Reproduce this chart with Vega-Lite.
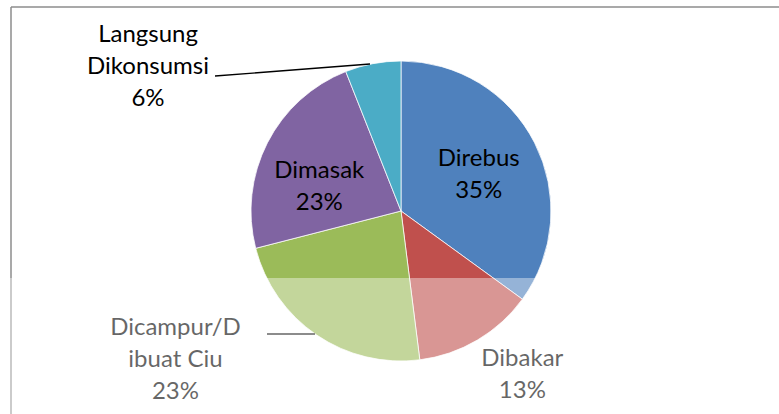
{
  "$schema": "https://vega.github.io/schema/vega-lite/v6.json",
  "width": 768,
  "height": 407,
  "autosize": {"type": "none"},
  "padding": {"left": 11, "top": 7, "right": 0, "bottom": 0},
  "background": "white",
  "config": {"view": {"stroke": null}},
  "layer": [
    {
      "data": {"values": [
        {"edge": "top", "x1": 0, "y1": 0, "x2": 768, "y2": 0},
        {"edge": "left", "x1": 0, "y1": 0, "x2": 0, "y2": 407}
      ]},
      "mark": {"type": "rule", "color": "#8c8c8c", "strokeWidth": 1.5},
      "encoding": {
        "x": {"field": "x1", "type": "quantitative", "axis": null, "scale": {"domain": [0, 768], "nice": false, "zero": false}},
        "x2": {"field": "x2"},
        "y": {"field": "y1", "type": "quantitative", "axis": null, "scale": {"domain": [0, 407], "reverse": true, "nice": false, "zero": false}},
        "y2": {"field": "y2"}
      }
    },
    {
      "data": {"values": [
        {"cat": "Direbus", "pct": 35, "label": "Direbus\n35%"},
        {"cat": "Dibakar", "pct": 13, "label": "Dibakar\n13%"},
        {"cat": "Dicampur/Dibuat Ciu", "pct": 23, "label": "Dicampur/D\nibuat Ciu\n23%"},
        {"cat": "Dimasak", "pct": 23, "label": "Dimasak\n23%"},
        {"cat": "Langsung Dikonsumsi", "pct": 6, "label": "Langsung\nDikonsumsi\n6%"}
      ]},
      "transform": [{"window": [{"op": "row_number", "as": "idx"}]}],
      "encoding": {
        "theta": {"field": "pct", "type": "quantitative", "stack": true},
        "order": {"field": "idx", "type": "quantitative"}
      },
      "layer": [
        {
          "mark": {"type": "arc", "outerRadius": 150, "x": 390, "y": 204, "stroke": "#ffffff", "strokeWidth": 0.75},
          "encoding": {
            "color": {
              "field": "cat", "type": "nominal", "legend": null,
              "scale": {
                "domain": ["Direbus", "Dibakar", "Dicampur/Dibuat Ciu", "Dimasak", "Langsung Dikonsumsi"],
                "range": ["#4F81BD", "#C0504D", "#9BBB59", "#8064A2", "#4BACC6"]
              }
            }
          }
        },
        {
          "mark": {"type": "text", "x": 390, "y": 204, "radius": 85, "dx": 2, "dy": -13, "font": "Lato", "fontSize": 24, "lineHeight": 32, "lineBreak": "\n", "align": "center", "baseline": "middle", "color": "#000000"},
          "encoding": {"text": {"condition": {"test": "datum.cat === 'Direbus'", "field": "label"}, "value": ""}}
        },
        {
          "mark": {"type": "text", "x": 390, "y": 204, "radius": 203, "dx": 18, "dy": -27, "font": "Lato", "fontSize": 24, "lineHeight": 32, "lineBreak": "\n", "align": "center", "baseline": "middle", "color": "#000000"},
          "encoding": {"text": {"condition": {"test": "datum.cat === 'Dibakar'", "field": "label"}, "value": ""}}
        },
        {
          "mark": {"type": "text", "x": 390, "y": 204, "radius": 250, "dx": -85, "dy": -90, "font": "Lato", "fontSize": 24, "lineHeight": 32, "lineBreak": "\n", "align": "center", "baseline": "middle", "color": "#000000"},
          "encoding": {"text": {"condition": {"test": "datum.cat === 'Dicampur/Dibuat Ciu'", "field": "label"}, "value": ""}}
        },
        {
          "mark": {"type": "text", "x": 390, "y": 204, "radius": 85, "dx": -6, "dy": -1, "font": "Lato", "fontSize": 24, "lineHeight": 32, "lineBreak": "\n", "align": "center", "baseline": "middle", "color": "#000000"},
          "encoding": {"text": {"condition": {"test": "datum.cat === 'Dimasak'", "field": "label"}, "value": ""}}
        },
        {
          "mark": {"type": "text", "x": 390, "y": 204, "radius": 160, "dx": -223, "dy": -19, "font": "Lato", "fontSize": 24, "lineHeight": 32, "lineBreak": "\n", "align": "center", "baseline": "middle", "color": "#000000"},
          "encoding": {"text": {"condition": {"test": "datum.cat === 'Langsung Dikonsumsi'", "field": "label"}, "value": ""}}
        }
      ]
    },
    {
      "data": {"values": [
        {"leader": "Langsung Dikonsumsi", "x1": 204, "y1": 69, "x2": 359, "y2": 57},
        {"leader": "Dicampur/Dibuat Ciu", "x1": 256, "y1": 327, "x2": 304, "y2": 327}
      ]},
      "mark": {"type": "rule", "color": "#000000", "strokeWidth": 1.3},
      "encoding": {
        "x": {"field": "x1", "type": "quantitative", "axis": null, "scale": {"domain": [0, 768], "nice": false, "zero": false}},
        "x2": {"field": "x2"},
        "y": {"field": "y1", "type": "quantitative", "axis": null, "scale": {"domain": [0, 407], "reverse": true, "nice": false, "zero": false}},
        "y2": {"field": "y2"}
      }
    },
    {
      "data": {"values": [{"band": "watermark", "x1": -11, "x2": 768, "y1": 271, "y2": 407}]},
      "mark": {"type": "rect", "color": "#ffffff", "opacity": 0.4},
      "encoding": {
        "x": {"field": "x1", "type": "quantitative", "axis": null, "scale": {"domain": [0, 768], "nice": false, "zero": false}},
        "x2": {"field": "x2"},
        "y": {"field": "y1", "type": "quantitative", "axis": null, "scale": {"domain": [0, 407], "reverse": true, "nice": false, "zero": false}},
        "y2": {"field": "y2"}
      }
    }
  ]
}
